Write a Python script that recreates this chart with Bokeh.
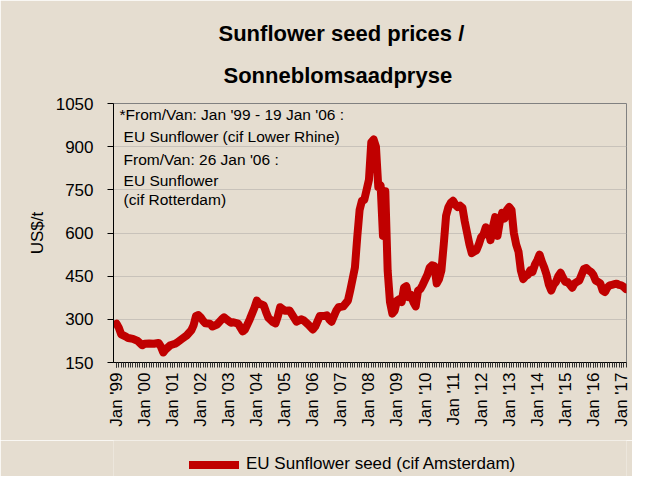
from bokeh.plotting import figure
from bokeh.layouts import column
from bokeh.models import FixedTicker, Label, Legend, LegendItem, Range1d, Title
from bokeh.embed import file_html
from bokeh.resources import INLINE

# Month index: 0 = Jan 1999
month_index = [0, 1, 2, 4, 5, 7, 9, 11, 12, 14, 16, 18, 19, 20, 21, 23, 25, 26, 28, 30,
               32, 33, 34, 35, 36, 37, 38, 40, 41, 43, 45, 46, 47, 49, 50, 52, 54, 55, 57, 59,
               60, 61, 63, 64, 65, 67, 68, 69, 70, 72, 74, 75, 77, 79, 80, 82, 84, 85, 87, 89,
               90, 91, 92, 94, 95, 97, 99, 100, 101, 102, 103, 104, 105, 106, 107, 108, 109, 110, 111, 112,
               113, 114, 115, 116, 117, 118, 119, 120, 121, 122, 123, 124, 125, 126, 127, 128, 129, 130, 131, 133,
               134, 135, 136, 137, 138, 139, 140, 141, 142, 143, 144, 145, 146, 147, 148, 149, 150, 151, 152, 153,
               154, 155, 156, 157, 158, 159, 160, 161, 162, 163, 164, 165, 166, 167, 168, 169, 170, 171, 172, 173,
               174, 175, 176, 177, 178, 179, 180, 181, 182, 183, 184, 185, 186, 187, 188, 189, 190, 191, 192, 193,
               194, 195, 196, 197, 198, 199, 200, 201, 202, 203, 204, 205, 206, 207, 208, 209, 210, 211, 212, 213,
               214, 215, 216, 217, 218]
price_usd = [285, 270, 248, 240, 235, 232, 225, 210, 215, 216, 215, 218, 205, 185, 195, 210, 215, 220, 232, 244,
             262, 280, 312, 315, 307, 295, 286, 285, 275, 282, 300, 307, 300, 288, 290, 285, 258, 265, 300, 340,
             365, 355, 348, 325, 305, 290, 286, 310, 342, 330, 331, 318, 292, 300, 297, 282, 265, 275, 312, 312,
             314, 300, 292, 330, 342, 345, 365, 401, 440, 480, 586, 680, 712, 715, 750, 785, 915, 925, 900, 760,
             765, 590, 745, 470, 360, 320, 330, 365, 370, 360, 410, 415, 377, 385, 360, 345, 400, 405, 420, 455,
             480, 488, 485, 425, 440, 470, 560, 660, 690, 705, 712, 698, 690, 695, 688, 640, 600, 560, 530, 535,
             540, 560, 585, 595, 620, 610, 575, 620, 655, 590, 640, 670, 650, 680, 690, 680, 600, 560, 535, 470,
             440, 450, 455, 470, 465, 490, 505, 525, 500, 480, 455, 420, 400, 420, 430, 450, 462, 445, 430, 430,
             420, 410, 425, 430, 435, 455, 475, 478, 470, 465, 455, 435, 430, 425, 400, 395, 410, 418, 420, 422,
             424, 420, 418, 413, 405]

tick_months = [0, 12, 24, 36, 48, 60, 72, 84, 96, 108, 120, 132, 144, 156, 168, 180, 192, 204, 216]
tick_labels = ["Jan '99", "Jan '00", "Jan '01", "Jan '02", "Jan '03", "Jan '04", "Jan '05", "Jan '06",
               "Jan '07", "Jan '08", "Jan '09", "Jan '10", "Jan '11", "Jan '12", "Jan '13", "Jan '14",
               "Jan '15", "Jan '16", "Jan '17"]
y_ticks = [150, 300, 450, 600, 750, 900, 1050]

title_lines = ["Sunflower seed prices /", "Sonneblomsaadpryse"]
note_lines = ["*From/Van: Jan '99 - 19 Jan '06 :", "EU Sunflower (cif Lower Rhine)",
              "From/Van: 26 Jan '06 :", "EU Sunflower", "(cif Rotterdam)"]
series_name = "EU Sunflower seed (cif Amsterdam)"

BG = "#e5ddd0"
RED = "#c00000"
FONT = "Liberation Sans"
LINE_STYLE = dict(line_color=RED, line_width=8, line_join="round", line_cap="round")

p = figure(width=632, height=440, output_backend="svg", toolbar_location=None,
           x_range=Range1d(-1.3, 218.2), y_range=Range1d(150, 1050),
           min_border_left=113, min_border_right=6, min_border_top=103, min_border_bottom=78)
p.background_fill_color = BG
p.border_fill_color = BG
p.outline_line_color = "#808080"
p.outline_line_width = 1

r = p.line(month_index, price_usd, **LINE_STYLE)

# axes
p.xaxis.ticker = FixedTicker(ticks=tick_months, minor_ticks=list(range(0, 219)))
p.xaxis.major_label_overrides = {m: lab for m, lab in zip(tick_months, tick_labels)}
p.xaxis.major_label_orientation = 1.5708
p.xaxis.major_tick_out = 5
p.xaxis.major_tick_in = 0
p.xaxis.minor_tick_out = 5
p.xaxis.minor_tick_in = 0
p.xaxis.major_label_standoff = 5
p.xaxis.axis_line_color = "black"
p.xaxis.major_tick_line_color = "black"
p.xaxis.minor_tick_line_color = "#333333"

p.yaxis.ticker = FixedTicker(ticks=y_ticks)
p.yaxis.major_tick_out = 6
p.yaxis.major_tick_in = 0
p.yaxis.minor_tick_line_color = None
p.yaxis.major_label_standoff = 14
p.yaxis.axis_label = "US$/t"
p.yaxis.axis_label_standoff = 6
p.yaxis.axis_line_color = "black"
p.yaxis.major_tick_line_color = "black"

for ax in (p.xaxis, p.yaxis):
    ax.major_label_text_font = FONT
    ax.major_label_text_font_size = "17px"
    ax.major_label_text_color = "black"
    ax.axis_label_text_font = FONT
    ax.axis_label_text_font_size = "17px"
    ax.axis_label_text_font_style = "normal"
    ax.axis_label_text_color = "black"

p.xgrid.grid_line_color = None
p.ygrid.grid_line_color = "#c8c2ba"
p.ygrid.grid_line_width = 1

# title: two lines, added nearest-first
p.add_layout(Title(text=title_lines[1], align="left", offset=110, standoff=31,
                   text_font=FONT, text_font_size="22px", text_font_style="bold",
                   text_color="black"), "above")
p.add_layout(Title(text=title_lines[0], align="left", offset=105, standoff=0,
                   text_font=FONT, text_font_size="22px", text_font_style="bold",
                   text_color="black"), "above")

# note
note_x = [1.3, 3.0, 3.0, 3.0, 3.0]
note_y = [1011, 934, 856, 784, 715]
for txt, xx, yy in zip(note_lines, note_x, note_y):
    p.add_layout(Label(x=xx, y=yy, text=txt, text_font=FONT, text_font_size="15.5px",
                       text_align="left", text_baseline="middle", text_color="black"))

# legend strip below the chart (its frame is aligned with the chart's frame)
q = figure(width=632, height=36, output_backend="svg", toolbar_location=None,
           x_range=Range1d(0, 1), y_range=Range1d(0, 1),
           x_axis_location=None, y_axis_location=None,
           min_border_left=0, min_border_right=0, min_border_top=0, min_border_bottom=0)
q.background_fill_color = BG
q.border_fill_color = BG
q.outline_line_color = None
q.xgrid.grid_line_color = None
q.ygrid.grid_line_color = None
# same series, lying outside this strip's ranges: only its legend swatch shows
r_leg = q.line(month_index, price_usd, **LINE_STYLE)
legend = Legend(items=[LegendItem(label=series_name, renderers=[r_leg])],
                location=(76, 2), orientation="horizontal",
                glyph_width=50, glyph_height=17, label_height=17,
                label_standoff=7, padding=0, margin=0, spacing=0,
                border_line_color=None, background_fill_alpha=0,
                label_text_font=FONT, label_text_font_size="17px", label_text_color="black")
q.add_layout(legend)

layout = column(p, q, spacing=0)
open("out.html", "w").write(file_html(layout, INLINE))
